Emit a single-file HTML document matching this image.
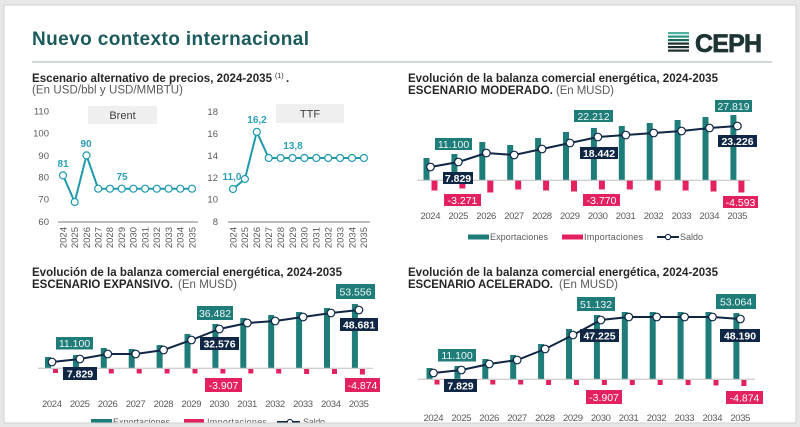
<!DOCTYPE html>
<html><head><meta charset="utf-8"><style>
html,body{margin:0;padding:0;background:#e7e7e7;}
svg{display:block;font-family:"Liberation Sans",Arial,sans-serif;}
.yr{font-size:9.5px;fill:#595959;text-anchor:middle;}
.ax{font-size:9.5px;fill:#595959;text-anchor:end;}
.ry{font-size:9.5px;fill:#595959;text-anchor:end;}
.e{fill:#1f7d79;}
.i{fill:#e3215f;}
.t{font-size:10.5px;fill:#eef7f6;text-anchor:middle;}
.n{font-size:10.5px;fill:#ffffff;font-weight:bold;text-anchor:middle;}
.p{font-size:10.5px;fill:#ffffff;text-anchor:middle;}
.tt{font-size:11.5px;font-weight:bold;fill:#262626;}
.st{font-size:11.5px;fill:#595959;}
.pl{font-size:10px;font-weight:bold;fill:#2a9fb5;text-anchor:middle;}
.lg{font-size:9px;fill:#595959;}
</style></head><body>
<svg width="800" height="427" viewBox="0 0 800 427" xmlns="http://www.w3.org/2000/svg">
<rect x="0" y="0" width="800" height="427" fill="#e7e7e7"/>
<rect x="4" y="5" width="792" height="418" fill="#ffffff" stroke="#d2d2d2" stroke-width="1"/>

<!-- Header -->
<text x="32" y="45" font-size="19" font-weight="bold" fill="#1b5b5d" textLength="277">Nuevo contexto internacional</text>
<g>
<rect x="668" y="32" width="21" height="2.2" fill="#4fb0a0"/>
<rect x="668" y="35.5" width="21" height="2.2" fill="#2f9485"/>
<rect x="668" y="39" width="21" height="2.2" fill="#1f6e66"/>
<rect x="668" y="42.5" width="21" height="2.2" fill="#1d2c2c"/>
<rect x="668" y="46" width="21" height="2.2" fill="#1d2c2c"/>
<rect x="668" y="49.5" width="21" height="2.2" fill="#1d2c2c"/>
</g>
<text x="695" y="52" font-size="25" font-weight="bold" fill="#1e3434" stroke="#1e3434" stroke-width="0.7" textLength="67">CEPH</text>
<line x1="32" y1="62" x2="772" y2="62" stroke="#b7bfc2" stroke-width="1.3"/>

<!-- Price section titles -->
<text class="tt" x="32" y="82" textLength="240">Escenario alternativo de precios, 2024-2035</text>
<text x="275" y="78" font-size="7" fill="#262626">(1)</text>
<text class="tt" x="286" y="82">.</text>
<text class="st" x="32" y="93.5" textLength="151">(En USD/bbl y USD/MMBTU)</text>

<!-- Brent chart -->
<text class="ax" x="49" y="114.5">110</text>
<text class="ax" x="49" y="136.5">100</text>
<text class="ax" x="49" y="159">90</text>
<text class="ax" x="49" y="180.5">80</text>
<text class="ax" x="49" y="202.5">70</text>
<text class="ax" x="49" y="225">60</text>
<rect x="88" y="106" width="69" height="18" fill="#efefef"/>
<text x="122.5" y="119" font-size="11" fill="#404040" text-anchor="middle">Brent</text>
<line x1="58" y1="222" x2="198" y2="222" stroke="#a6a6a6" stroke-width="1.5"/>
<polyline fill="none" stroke="#1e9aae" stroke-width="2" points="63,175.4 74.7,202 86.5,155.4 98.2,188.7 109.9,188.7 121.7,188.7 133.4,188.7 145.1,188.7 156.8,188.7 168.6,188.7 180.3,188.7 192,188.7"/>
<g fill="#fff" stroke="#1e9aae" stroke-width="1.2">
<circle cx="63" cy="175.4" r="3.5"/><circle cx="74.7" cy="202" r="3.5"/><circle cx="86.5" cy="155.4" r="3.5"/><circle cx="98.2" cy="188.7" r="3.5"/><circle cx="109.9" cy="188.7" r="3.5"/><circle cx="121.7" cy="188.7" r="3.5"/><circle cx="133.4" cy="188.7" r="3.5"/><circle cx="145.1" cy="188.7" r="3.5"/><circle cx="156.8" cy="188.7" r="3.5"/><circle cx="168.6" cy="188.7" r="3.5"/><circle cx="180.3" cy="188.7" r="3.5"/><circle cx="192" cy="188.7" r="3.5"/>
</g>
<text class="pl" x="63" y="167">81</text>
<text class="pl" x="86" y="147">90</text>
<text class="pl" x="122" y="180">75</text>
<g class="ry">
<text transform="translate(66.3,227) rotate(-90)">2024</text>
<text transform="translate(78,227) rotate(-90)">2025</text>
<text transform="translate(89.8,227) rotate(-90)">2026</text>
<text transform="translate(101.5,227) rotate(-90)">2027</text>
<text transform="translate(113.2,227) rotate(-90)">2028</text>
<text transform="translate(125,227) rotate(-90)">2029</text>
<text transform="translate(136.7,227) rotate(-90)">2030</text>
<text transform="translate(148.4,227) rotate(-90)">2031</text>
<text transform="translate(160.1,227) rotate(-90)">2032</text>
<text transform="translate(171.9,227) rotate(-90)">2033</text>
<text transform="translate(183.6,227) rotate(-90)">2034</text>
<text transform="translate(195.3,227) rotate(-90)">2035</text>
</g>

<!-- TTF chart -->
<text class="ax" x="218" y="115">18</text>
<text class="ax" x="218" y="137">16</text>
<text class="ax" x="218" y="159">14</text>
<text class="ax" x="218" y="181">12</text>
<text class="ax" x="218" y="202.5">10</text>
<text class="ax" x="218" y="225">8</text>
<rect x="276" y="104" width="68" height="19" fill="#efefef"/>
<text x="310" y="117.5" font-size="11" fill="#404040" text-anchor="middle">TTF</text>
<line x1="228" y1="222" x2="370" y2="222" stroke="#a6a6a6" stroke-width="1.5"/>
<polyline fill="none" stroke="#1e9aae" stroke-width="2" points="233,189 244.9,179 256.8,131.8 268.7,158 280.6,158 292.5,158 304.4,158 316.3,158 328.2,158 340.1,158 352,158 363.9,158"/>
<g fill="#fff" stroke="#1e9aae" stroke-width="1.2">
<circle cx="233" cy="189" r="3.5"/><circle cx="244.9" cy="179" r="3.5"/><circle cx="256.8" cy="131.8" r="3.5"/><circle cx="268.7" cy="158" r="3.5"/><circle cx="280.6" cy="158" r="3.5"/><circle cx="292.5" cy="158" r="3.5"/><circle cx="304.4" cy="158" r="3.5"/><circle cx="316.3" cy="158" r="3.5"/><circle cx="328.2" cy="158" r="3.5"/><circle cx="340.1" cy="158" r="3.5"/><circle cx="352" cy="158" r="3.5"/><circle cx="363.9" cy="158" r="3.5"/>
</g>
<text class="pl" x="257" y="123">16,2</text>
<text class="pl" x="293" y="149">13,8</text>
<text class="pl" x="232" y="180">11,0</text>
<g class="ry">
<text transform="translate(236.3,227) rotate(-90)">2024</text>
<text transform="translate(248.2,227) rotate(-90)">2025</text>
<text transform="translate(260.1,227) rotate(-90)">2026</text>
<text transform="translate(272,227) rotate(-90)">2027</text>
<text transform="translate(283.9,227) rotate(-90)">2028</text>
<text transform="translate(295.8,227) rotate(-90)">2029</text>
<text transform="translate(307.7,227) rotate(-90)">2030</text>
<text transform="translate(319.6,227) rotate(-90)">2031</text>
<text transform="translate(331.5,227) rotate(-90)">2032</text>
<text transform="translate(343.4,227) rotate(-90)">2033</text>
<text transform="translate(355.3,227) rotate(-90)">2034</text>
<text transform="translate(367.2,227) rotate(-90)">2035</text>
</g>

<!-- MODERADO -->
<text class="tt" x="408" y="82" textLength="310">Evolución de la balanza comercial energética, 2024-2035</text>
<text class="tt" x="408" y="94" textLength="145">ESCENARIO MODERADO.</text>
<text class="st" x="556" y="94" textLength="58">(En MUSD)</text>
<g class="e">
<rect x="423.5" y="158" width="6" height="22"/><rect x="451.4" y="154" width="6" height="26"/><rect x="479.3" y="142" width="6" height="38"/><rect x="507.2" y="145" width="6" height="35"/><rect x="535.1" y="138" width="6" height="42"/><rect x="563" y="132" width="6" height="48"/><rect x="590.9" y="128" width="6" height="52"/><rect x="618.8" y="126" width="6" height="54"/><rect x="646.7" y="123" width="6" height="57"/><rect x="674.6" y="120" width="6" height="60"/><rect x="702.5" y="117" width="6" height="63"/><rect x="730.4" y="115" width="6" height="65"/>
</g>
<g class="i">
<rect x="431.5" y="180.5" width="6" height="10"/><rect x="459.4" y="180.5" width="6" height="8"/><rect x="487.3" y="180.5" width="6" height="12"/><rect x="515.2" y="180.5" width="6" height="9"/><rect x="543.1" y="180.5" width="6" height="10"/><rect x="571" y="180.5" width="6" height="11"/><rect x="598.9" y="180.5" width="6" height="9"/><rect x="626.8" y="180.5" width="6" height="9"/><rect x="654.7" y="180.5" width="6" height="10"/><rect x="682.6" y="180.5" width="6" height="10"/><rect x="710.5" y="180.5" width="6" height="11"/><rect x="738.4" y="180.5" width="6" height="12"/>
</g>
<line x1="417" y1="180.3" x2="750" y2="180.3" stroke="#bfbfbf" stroke-width="1"/>
<polyline fill="none" stroke="#0f2645" stroke-width="2" points="430.5,167 458.4,162 486.3,153 514.2,155 542.1,149 570,143 597.9,137 625.8,135 653.7,133 681.6,131 709.5,128 737.4,126"/>
<g fill="#fff" stroke="#0f2645" stroke-width="1.2">
<circle cx="430.5" cy="167" r="3.8"/><circle cx="458.4" cy="162" r="3.8"/><circle cx="486.3" cy="153" r="3.8"/><circle cx="514.2" cy="155" r="3.8"/><circle cx="542.1" cy="149" r="3.8"/><circle cx="570" cy="143" r="3.8"/><circle cx="597.9" cy="137" r="3.8"/><circle cx="625.8" cy="135" r="3.8"/><circle cx="653.7" cy="133" r="3.8"/><circle cx="681.6" cy="131" r="3.8"/><circle cx="709.5" cy="128" r="3.8"/><circle cx="737.4" cy="126" r="3.8"/>
</g>
<rect class="e" x="435" y="138" width="37" height="12"/><text class="t" x="453.5" y="147.8">11.100</text>
<rect x="443" y="172" width="30" height="12" fill="#0f2645"/><text class="n" x="458" y="181.8">7.829</text>
<rect class="i" x="444" y="194" width="37" height="12"/><text class="p" x="462.5" y="203.8">-3.271</text>
<rect class="e" x="574" y="110" width="39" height="12"/><text class="t" x="593.5" y="119.8">22.212</text>
<rect x="580" y="147" width="38" height="12" fill="#0f2645"/><text class="n" x="599" y="156.8">18.442</text>
<rect class="i" x="583" y="194" width="37" height="12"/><text class="p" x="601.5" y="203.8">-3.770</text>
<rect class="e" x="715" y="100" width="37" height="12"/><text class="t" x="733.5" y="109.8">27.819</text>
<rect x="718" y="135" width="39" height="12" fill="#0f2645"/><text class="n" x="737.5" y="144.8">23.226</text>
<rect class="i" x="723" y="196" width="35" height="12"/><text class="p" x="740.5" y="205.8">-4.593</text>
<g class="yr">
<text x="430.5" y="219" textLength="20">2024</text><text x="458.4" y="219" textLength="20">2025</text><text x="486.3" y="219" textLength="20">2026</text><text x="514.2" y="219" textLength="20">2027</text><text x="542.1" y="219" textLength="20">2028</text><text x="570" y="219" textLength="20">2029</text><text x="597.9" y="219" textLength="20">2030</text><text x="625.8" y="219" textLength="20">2031</text><text x="653.7" y="219" textLength="20">2032</text><text x="681.6" y="219" textLength="20">2033</text><text x="709.5" y="219" textLength="20">2034</text><text x="737.4" y="219" textLength="20">2035</text>
</g>
<rect class="e" x="468" y="234.5" width="21" height="5"/>
<text class="lg" x="490" y="240.2" textLength="58">Exportaciones</text>
<rect class="i" x="562" y="234.5" width="21" height="5"/>
<text class="lg" x="584" y="240.2" textLength="59">Importaciones</text>
<line x1="657" y1="237" x2="679" y2="237" stroke="#0f2645" stroke-width="2"/>
<circle cx="668" cy="237" r="2.6" fill="#fff" stroke="#0f2645" stroke-width="1.1"/>
<text class="lg" x="680" y="240.2" textLength="23">Saldo</text>

<!-- EXPANSIVO -->
<text class="tt" x="32" y="276" textLength="310">Evolución de la balanza comercial energética, 2024-2035</text>
<text class="tt" x="32" y="288" textLength="141">ESCENARIO EXPANSIVO.</text>
<text class="st" x="178" y="288" textLength="59">(En MUSD)</text>
<g class="e">
<rect x="45" y="357" width="6" height="11"/><rect x="72.9" y="355" width="6" height="13"/><rect x="100.8" y="348" width="6" height="20"/><rect x="128.7" y="349" width="6" height="19"/><rect x="156.6" y="345" width="6" height="23"/><rect x="184.5" y="334" width="6" height="34"/><rect x="212.4" y="324" width="6" height="44"/><rect x="240.3" y="318" width="6" height="50"/><rect x="268.2" y="315" width="6" height="53"/><rect x="296.1" y="312" width="6" height="56"/><rect x="324" y="308" width="6" height="60"/><rect x="351.9" y="304" width="6" height="64"/>
</g>
<g class="i">
<rect x="53" y="369" width="5" height="4"/><rect x="80.9" y="369" width="5" height="4"/><rect x="108.8" y="369" width="5" height="4.5"/><rect x="136.7" y="369" width="5" height="4.5"/><rect x="164.6" y="369" width="5" height="4.5"/><rect x="192.5" y="369" width="5" height="4.5"/><rect x="220.4" y="369" width="5" height="4.5"/><rect x="248.3" y="369" width="5" height="4.5"/><rect x="276.2" y="369" width="5" height="4.5"/><rect x="304.1" y="369" width="5" height="5"/><rect x="332" y="369" width="5" height="5"/><rect x="359.9" y="369" width="5" height="5.5"/>
</g>
<line x1="38" y1="368.3" x2="373" y2="368.3" stroke="#bfbfbf" stroke-width="1"/>
<polyline fill="none" stroke="#0f2645" stroke-width="2" points="52,362 79.9,359 107.8,354 135.7,354 163.6,350 191.5,340 219.4,329 247.3,323 275.2,321 303.1,317 331,313 358.9,310"/>
<g fill="#fff" stroke="#0f2645" stroke-width="1.2">
<circle cx="52" cy="362" r="3.8"/><circle cx="79.9" cy="359" r="3.8"/><circle cx="107.8" cy="354" r="3.8"/><circle cx="135.7" cy="354" r="3.8"/><circle cx="163.6" cy="350" r="3.8"/><circle cx="191.5" cy="340" r="3.8"/><circle cx="219.4" cy="329" r="3.8"/><circle cx="247.3" cy="323" r="3.8"/><circle cx="275.2" cy="321" r="3.8"/><circle cx="303.1" cy="317" r="3.8"/><circle cx="331" cy="313" r="3.8"/><circle cx="358.9" cy="310" r="3.8"/>
</g>
<rect class="e" x="56" y="337" width="37" height="12.5"/><text class="t" x="74.5" y="347">11.100</text>
<rect x="63" y="367" width="34" height="13" fill="#0f2645"/><text class="n" x="80" y="377.3">7.829</text>
<rect class="e" x="197" y="306" width="36" height="14"/><text class="t" x="215" y="316.8">36.482</text>
<rect x="200" y="337" width="39" height="13" fill="#0f2645"/><text class="n" x="219.5" y="347.3">32.576</text>
<rect class="i" x="205" y="378" width="37" height="14"/><text class="p" x="223.5" y="388.8">-3.907</text>
<rect class="e" x="336" y="284" width="39" height="15"/><text class="t" x="355.5" y="295.3">53.556</text>
<rect x="340" y="318" width="38" height="13" fill="#0f2645"/><text class="n" x="359" y="328.3">48.681</text>
<rect class="i" x="345" y="378" width="35" height="14"/><text class="p" x="362.5" y="388.8">-4.874</text>
<g class="yr">
<text x="52" y="407" textLength="20">2024</text><text x="79.9" y="407" textLength="20">2025</text><text x="107.8" y="407" textLength="20">2026</text><text x="135.7" y="407" textLength="20">2027</text><text x="163.6" y="407" textLength="20">2028</text><text x="191.5" y="407" textLength="20">2029</text><text x="219.4" y="407" textLength="20">2030</text><text x="247.3" y="407" textLength="20">2031</text><text x="275.2" y="407" textLength="20">2032</text><text x="303.1" y="407" textLength="20">2033</text><text x="331" y="407" textLength="20">2034</text><text x="358.9" y="407" textLength="20">2035</text>
</g>
<rect class="e" x="91" y="419" width="21" height="5"/>
<text class="lg" x="113" y="425" textLength="57">Exportaciones</text>
<rect class="i" x="184" y="419" width="20" height="5"/>
<text class="lg" x="207" y="425" textLength="60">Importaciones</text>
<line x1="277" y1="422" x2="300" y2="422" stroke="#0f2645" stroke-width="2"/>
<circle cx="290" cy="422" r="2.6" fill="#fff" stroke="#0f2645" stroke-width="1.1"/>
<text class="lg" x="303" y="425" textLength="22">Saldo</text>

<!-- ACELERADO -->
<text class="tt" x="408" y="276" textLength="310">Evolución de la balanza comercial energética, 2024-2035</text>
<text class="tt" x="408" y="288" textLength="145">ESCENARIO ACELERADO.</text>
<text class="st" x="559" y="288" textLength="59">(En MUSD)</text>
<g class="e">
<rect x="426.5" y="368" width="6" height="11"/><rect x="454.4" y="366" width="6" height="13"/><rect x="482.3" y="359" width="6" height="20"/><rect x="510.2" y="355" width="6" height="24"/><rect x="538.1" y="344" width="6" height="35"/><rect x="566" y="329" width="6" height="50"/><rect x="593.9" y="315" width="6" height="64"/><rect x="621.8" y="312" width="6" height="67"/><rect x="649.7" y="312" width="6" height="67"/><rect x="677.6" y="312" width="6" height="67"/><rect x="705.5" y="312" width="6" height="67"/><rect x="733.4" y="313" width="6" height="66"/>
</g>
<g class="i">
<rect x="434.5" y="380" width="5" height="4.5"/><rect x="462.4" y="380" width="5" height="4.5"/><rect x="490.3" y="380" width="5" height="4.5"/><rect x="518.2" y="380" width="5" height="4.5"/><rect x="546.1" y="380" width="5" height="5"/><rect x="574" y="380" width="5" height="5"/><rect x="601.9" y="380" width="5" height="5"/><rect x="629.8" y="380" width="5" height="5"/><rect x="657.7" y="380" width="5" height="5"/><rect x="685.6" y="380" width="5" height="5"/><rect x="713.5" y="380" width="5" height="5.5"/><rect x="741.4" y="380" width="5" height="6"/>
</g>
<line x1="418" y1="379.3" x2="755" y2="379.3" stroke="#bfbfbf" stroke-width="1"/>
<polyline fill="none" stroke="#0f2645" stroke-width="2" points="433.5,373 461.4,370 489.3,364 517.2,360 545.1,349 573,335 600.9,320 628.8,317 656.7,317 684.6,317 712.5,317 740.4,319"/>
<g fill="#fff" stroke="#0f2645" stroke-width="1.2">
<circle cx="433.5" cy="373" r="3.8"/><circle cx="461.4" cy="370" r="3.8"/><circle cx="489.3" cy="364" r="3.8"/><circle cx="517.2" cy="360" r="3.8"/><circle cx="545.1" cy="349" r="3.8"/><circle cx="573" cy="335" r="3.8"/><circle cx="600.9" cy="320" r="3.8"/><circle cx="628.8" cy="317" r="3.8"/><circle cx="656.7" cy="317" r="3.8"/><circle cx="684.6" cy="317" r="3.8"/><circle cx="712.5" cy="317" r="3.8"/><circle cx="740.4" cy="319" r="3.8"/>
</g>
<rect class="e" x="438" y="349" width="38" height="12.5"/><text class="t" x="457" y="359">11.100</text>
<rect x="444" y="379" width="33" height="13" fill="#0f2645"/><text class="n" x="460.5" y="389.3">7.829</text>
<rect class="e" x="577" y="297" width="38" height="14"/><text class="t" x="596" y="307.8">51.132</text>
<rect x="580" y="329" width="39" height="13" fill="#0f2645"/><text class="n" x="599.5" y="339.3">47.225</text>
<rect class="i" x="586" y="390" width="36" height="14"/><text class="p" x="604" y="400.8">-3.907</text>
<rect class="e" x="716" y="294" width="40" height="15"/><text class="t" x="736" y="305.3">53.064</text>
<rect x="720" y="329" width="40" height="13" fill="#0f2645"/><text class="n" x="740" y="339.3">48.190</text>
<rect class="i" x="726" y="391" width="37" height="13"/><text class="p" x="744.5" y="401.3">-4.874</text>
<g class="yr">
<text x="433.5" y="421" textLength="20">2024</text><text x="461.4" y="421" textLength="20">2025</text><text x="489.3" y="421" textLength="20">2026</text><text x="517.2" y="421" textLength="20">2027</text><text x="545.1" y="421" textLength="20">2028</text><text x="573" y="421" textLength="20">2029</text><text x="600.9" y="421" textLength="20">2030</text><text x="628.8" y="421" textLength="20">2031</text><text x="656.7" y="421" textLength="20">2032</text><text x="684.6" y="421" textLength="20">2033</text><text x="712.5" y="421" textLength="20">2034</text><text x="740.4" y="421" textLength="20">2035</text>
</g>

<!-- bottom frame overlay -->
<rect x="0" y="423" width="800" height="4" fill="#e7e7e7"/>
<line x1="4" y1="423" x2="796" y2="423" stroke="#d2d2d2" stroke-width="1"/>
</svg>
</body></html>
